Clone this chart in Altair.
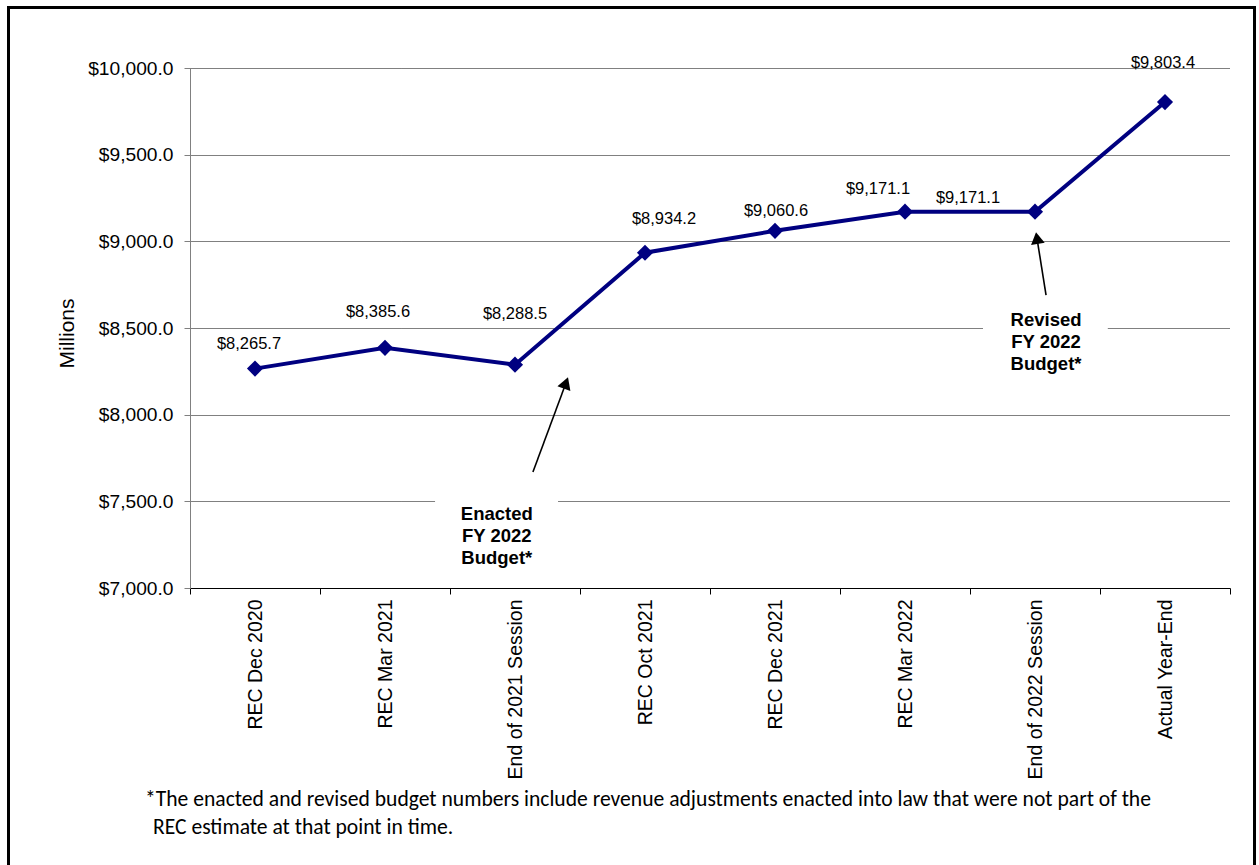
import altair as alt
import pandas as pd

# ---- data ----
categories = ["REC Dec 2020", "REC Mar 2021", "End of 2021 Session", "REC Oct 2021",
              "REC Dec 2021", "REC Mar 2022", "End of 2022 Session", "Actual Year-End"]
values = [8265.7, 8385.6, 8288.5, 8934.2, 9060.6, 9171.1, 9171.1, 9803.4]
y_ticks = [7000, 7500, 8000, 8500, 9000, 9500, 10000]

# label nudges (pixels) for the value labels
label_dx = [-6, -7, 0, 19, 1, -27, -67, -2]
label_dy = [-25, -36, -51, -34, -20, -23, -14, -39]

# annotations (data coordinates: category index / millions)
annotation_texts = ["Enacted\nFY 2022\nBudget*", "Revised\nFY 2022\nBudget*"]
annotation_x = [1.86, 6.085]
annotation_y = [7302, 8419]
box_x = [1.385, 5.60]
box_x2 = [2.331, 6.56]
box_y = [7104, 8200]
box_y2 = [7635, 8662]
arrow_tail_x = [2.138, 6.085]
arrow_tail_y = [7669, 8690]
arrow_head_x = [2.392, 6.015]
arrow_head_y = [8183, 9019]
arrow_angle = [20, 351]

footnote_lines = [
    "*The enacted and revised budget numbers include revenue adjustments enacted into law that were not part of the",
    "REC estimate at that point in time.",
]

# ---- tables ----
df = pd.DataFrame({"cat": categories, "idx": list(range(len(categories))), "value": values})
ann = pd.DataFrame({"text": annotation_texts, "ax": annotation_x, "ay": annotation_y,
                    "bx": box_x, "bx2": box_x2, "by": box_y, "by2": box_y2,
                    "tx": arrow_tail_x, "ty": arrow_tail_y, "hx": arrow_head_x,
                    "hy": arrow_head_y, "angle": arrow_angle})

FONT = "Liberation Sans"
NAVY = "#000080"

names_js = "[" + ",".join("'" + c + "'" for c in categories) + "]"
x_vals = [i * 0.5 - 0.5 for i in range(2 * len(categories) + 1)]

xscale = alt.Scale(domain=[-0.5, len(categories) - 0.5], nice=False, zero=False)
xaxis = alt.Axis(
    values=x_vals,
    title="",
    grid=False,
    labelExpr=f"datum.value % 1 == 0 ? {names_js}[datum.value] : ''",
    labelAngle=-90,
    labelFont=FONT,
    labelFontSize=19.5,
    labelColor="#000",
    labelPadding=5,
    labelOverlap=False,
    labelFlush=False,
    labelBound=False,
    domainColor="#000",
    domainWidth=1,
    tickColor="#000",
    tickSize=6,
    tickOpacity={"condition": {"test": "datum.value % 1 == 0", "value": 0}, "value": 1},
)
yscale = alt.Scale(domain=[7000, 10000], nice=False, zero=False)
yaxis = alt.Axis(
    values=y_ticks,
    format="$,.1f",
    title="Millions",
    titleFont=FONT,
    titleFontSize=21,
    titleFontWeight="normal",
    titleColor="#000",
    titleAngle=-90,
    titleX=-123,
    titleY=265,
    titleAlign="center",
    titleBaseline="middle",
    labelFont=FONT,
    labelFontSize=19.2,
    labelColor="#000",
    labelPadding=11,
    grid=True,
    gridColor="#000",
    gridDash=[1, 1],
    gridWidth=1,
    domainColor="#808080",
    tickColor="#808080",
    tickSize=6,
)


def X(field):
    return alt.X(f"{field}:Q", scale=xscale, axis=xaxis)


def Y(field):
    return alt.Y(f"{field}:Q", scale=yscale, axis=yaxis)


line = alt.Chart(df).mark_line(color=NAVY, strokeWidth=4).encode(x=X("idx"), y=Y("value"))
pts = alt.Chart(df).mark_point(shape="diamond", filled=True, size=260, color=NAVY, opacity=1).encode(
    x=X("idx"), y=Y("value"))

labels = []
for i in range(len(categories)):
    labels.append(
        alt.Chart(df).transform_filter(f"datum.idx == {i}").mark_text(
            font=FONT, fontSize=16.5, color="#000", dx=label_dx[i], dy=label_dy[i],
            align="center", baseline="middle"
        ).encode(x=X("idx"), y=Y("value"), text=alt.Text("value:Q", format="$,.1f"))
    )

boxes = alt.Chart(ann).mark_rect(color="white", opacity=1).encode(
    x=X("bx"), x2="bx2", y=Y("by"), y2="by2")
ann_text = alt.Chart(ann).mark_text(
    font=FONT, fontSize=18.5, fontWeight="bold", color="#000", lineBreak="\n",
    lineHeight=22, align="center", baseline="middle", dy=-22
).encode(x=X("ax"), y=Y("ay"), text="text:N")
arrows = alt.Chart(ann).mark_rule(color="#000", strokeWidth=1.6).encode(
    x=X("tx"), x2="hx", y=Y("ty"), y2="hy")
heads = alt.Chart(ann).mark_point(shape="triangle-up", filled=True, size=190, color="#000", opacity=1).encode(
    x=X("hx"), y=Y("hy"), angle=alt.Angle("angle:Q", scale=None))

one = pd.DataFrame({"k": [0]})
foot1 = alt.Chart(one).mark_text(
    text=footnote_lines[0], font="Carlito, Lato", fontSize=21.6, color="#000", align="left", baseline="middle"
).encode(x=alt.value(-45), y=alt.value(732))
foot2 = alt.Chart(one).mark_text(
    text=footnote_lines[1], font="Carlito, Lato", fontSize=21.6, color="#000", align="left", baseline="middle"
).encode(x=alt.value(-37), y=alt.value(760))
border = alt.Chart(one).mark_rect(filled=False, stroke="#000", strokeWidth=3).encode(
    x=alt.value(-181.5), x2=alt.value(1064.5), y=alt.value(-60.5), y2=alt.value(820))

chart = alt.layer(
    boxes, line, pts, *labels, ann_text, arrows, heads, foot1, foot2, border
).properties(
    width=1040, height=520,
    padding={"left": 190, "top": 68, "right": 29, "bottom": 277},
    autosize=alt.AutoSizeParams(type="none"),
    background="white",
).configure_view(strokeWidth=0)

chart.save("out.html", embed_options={"renderer": "svg", "actions": False})
